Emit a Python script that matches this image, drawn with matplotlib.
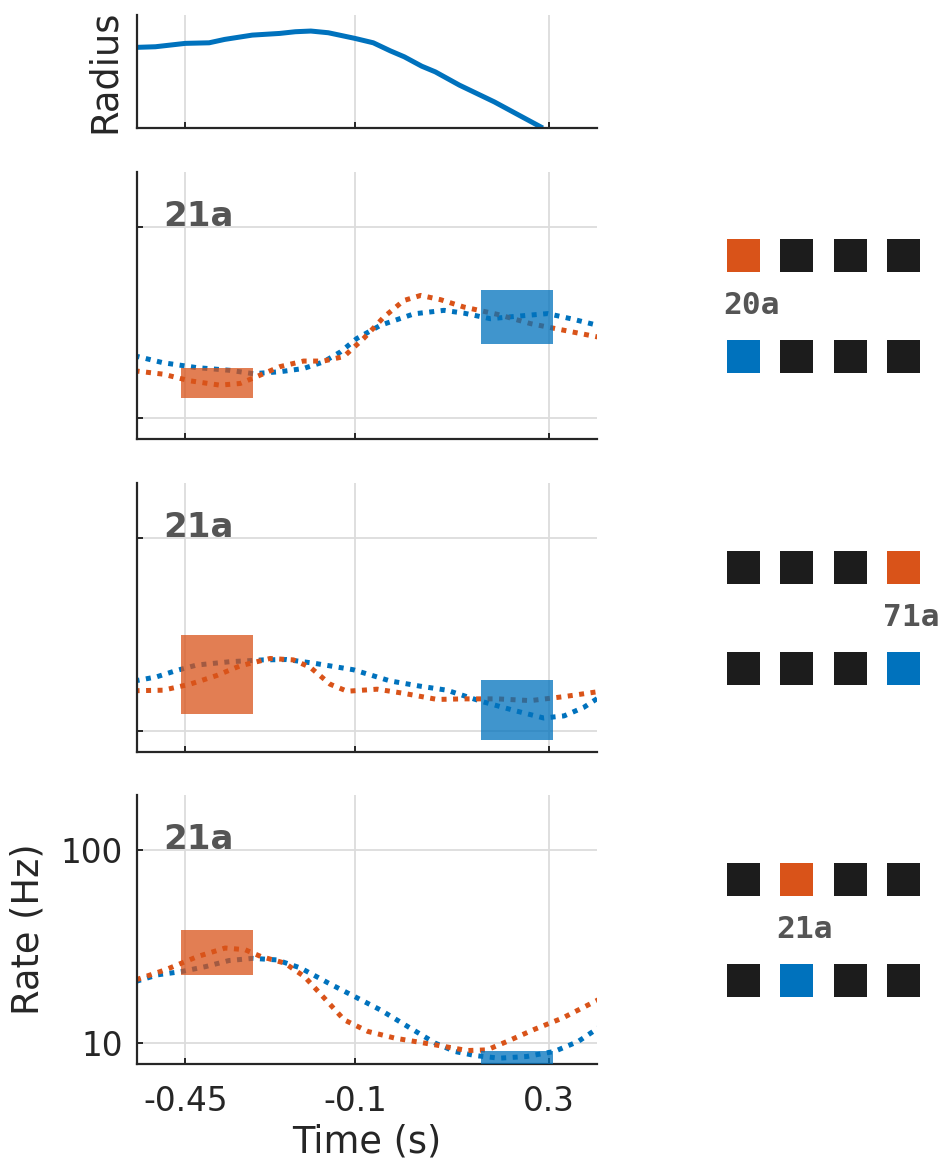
import matplotlib
matplotlib.use('Agg')
import numpy as np
import matplotlib.pyplot as plt
from matplotlib.patches import Rectangle

# ---------------- data ----------------
xticks = [-0.45, -0.1, 0.3]
xticklabels = ['-0.45', '-0.1', '0.3']
yticks = [10, 100]
yticklabels = ['10', '100']

radius_t = [-0.555, -0.512, -0.45, -0.401, -0.369, -0.312, -0.255, -0.223, -0.191,
            -0.155, -0.10, -0.062, -0.027, 0.002, 0.038, 0.066, 0.116, 0.188, 0.252, 0.288]
radius_r = [0.713, 0.719, 0.749, 0.754, 0.784, 0.822, 0.837, 0.852, 0.858,
            0.843, 0.793, 0.754, 0.683, 0.630, 0.547, 0.497, 0.379, 0.231, 0.083, 0.0]

# panel A (20a)
a_blue_t = [-0.555, -0.496, -0.427, -0.358, -0.31, -0.255, -0.206, -0.165, -0.13, -0.096,
            -0.047, 0.022, 0.084, 0.125, 0.18, 0.229, 0.298, 0.346, 0.401]
a_blue_v = [21.2, 19.5, 18.4, 17.8, 17.1, 17.5, 18.2, 19.7, 22.2, 26.1,
            30.6, 35.1, 36.6, 35.4, 33.1, 34.0, 35.2, 33.1, 30.6]
a_orange_t = [-0.555, -0.496, -0.441, -0.379, -0.337, -0.303, -0.255, -0.206, -0.165, -0.123,
              -0.082, -0.04, 0.001, 0.036, 0.077, 0.125, 0.194, 0.263, 0.332, 0.401]
a_orange_v = [17.7, 17.0, 15.7, 14.9, 15.2, 16.5, 18.6, 19.9, 19.9, 21.0,
              26.1, 33.8, 41.2, 43.8, 41.6, 38.1, 34.9, 31.2, 28.8, 26.6]

# panel B (71a)
b_blue_t = [-0.555, -0.51, -0.469, -0.427, -0.358, -0.289, -0.241, -0.185, -0.103, -0.027,
            0.035, 0.09, 0.16, 0.229, 0.29, 0.332, 0.373, 0.405]
b_blue_v = [18.2, 19.1, 20.6, 22.0, 22.9, 23.4, 23.5, 22.5, 20.8, 18.2,
            17.1, 16.3, 14.3, 12.8, 11.7, 12.0, 13.3, 15.0]
b_orange_t = [-0.555, -0.496, -0.441, -0.386, -0.337, -0.275, -0.227, -0.192, -0.151, -0.116,
              -0.054, 0.001, 0.07, 0.125, 0.194, 0.263, 0.332, 0.401]
b_orange_v = [16.2, 16.3, 17.5, 19.4, 21.8, 23.8, 23.4, 21.4, 17.5, 16.1,
              16.5, 15.7, 14.6, 14.7, 14.7, 14.4, 15.1, 16.0]

# panel C (21a)
c_blue_t = [-0.552, -0.507, -0.458, -0.409, -0.36, -0.311, -0.261, -0.212, -0.155, -0.098,
            -0.048, 0.009, 0.066, 0.107, 0.148, 0.198, 0.255, 0.312, 0.361, 0.403]
c_blue_v = [20.9, 22.6, 23.5, 24.9, 26.8, 27.5, 27.0, 24.5, 20.5, 17.3,
            14.9, 12.2, 10.0, 9.05, 8.63, 8.36, 8.53, 9.06, 10.2, 12.0]
c_orange_t = [-0.552, -0.491, -0.425, -0.368, -0.327, -0.294, -0.245, -0.204, -0.163, -0.122,
              -0.073, -0.016, 0.066, 0.132, 0.173, 0.214, 0.271, 0.329, 0.403]
c_orange_v = [21.3, 24.0, 28.1, 31.1, 30.5, 28.1, 26.0, 22.1, 17.1, 13.2,
              11.5, 10.6, 9.8, 9.16, 9.23, 10.2, 11.8, 13.5, 16.8]

# highlighted windows: [t0, t1, low, high]
a_orange_box = [-0.46, -0.31, 12.7, 18.4]
a_blue_box = [0.16, 0.31, 24.5, 47.0]
b_orange_box = [-0.46, -0.31, 12.2, 31.5]
b_blue_box = [0.16, 0.31, 9.0, 18.4]
c_orange_box = [-0.46, -0.31, 22.6, 38.6]
c_blue_box = [0.16, 0.31, 7.0, 9.06]

panel_tags = ['21a', '21a', '21a']
icon_labels = ['20a', '71a', '21a']
icon_highlight = [0, 3, 1]

# ---------------- style ----------------
BLUE = '#0072BD'
ORANGE = '#D95319'
TXT = '#262626'
GRID = '#DCDCDC'
TAG = '#555555'
W, H = 943, 1162
XLIM = (-0.55, 0.40)
YLIM = (7.8, 193)

fig = plt.figure(figsize=(W / 100, H / 100), dpi=100)


def px_axes(left, top, right, bottom):
    return fig.add_axes([left / W, 1 - bottom / H, (right - left) / W, (bottom - top) / H])


def style_axes(ax, ygrid=True):
    for s in ['top', 'right']:
        ax.spines[s].set_visible(False)
    for s in ['left', 'bottom']:
        ax.spines[s].set_color(TXT)
        ax.spines[s].set_linewidth(1.6)
    ax.set_xlim(*XLIM)
    ax.set_xticks(xticks)
    ax.tick_params(direction='in', length=4, width=1.4, colors=TXT, labelsize=23.5)
    ax.tick_params(axis='x', pad=15)
    ax.tick_params(axis='y', pad=10)
    ax.set_axisbelow(True)
    ax.grid(True, axis='x', color=GRID, lw=1.3)
    if ygrid:
        ax.grid(True, axis='y', color=GRID, lw=1.3)
    ax.set_facecolor('none')


# radius panel
ax0 = px_axes(137, 15, 597, 128)
style_axes(ax0, ygrid=False)
ax0.plot(radius_t, radius_r, color=BLUE, lw=3.6, solid_capstyle='butt')
ax0.set_ylim(0, 1)
ax0.set_yticks([])
ax0.set_xticklabels([])
ax0.text(-0.072, 0.5, 'Radius', transform=ax0.transAxes, rotation=90,
         ha='center', va='center', fontsize=26.5, color=TXT)

panels = [
    (172, 439, a_blue_t, a_blue_v, a_orange_t, a_orange_v, a_orange_box, a_blue_box),
    (483, 752, b_blue_t, b_blue_v, b_orange_t, b_orange_v, b_orange_box, b_blue_box),
    (795, 1064, c_blue_t, c_blue_v, c_orange_t, c_orange_v, c_orange_box, c_blue_box),
]

dots = (0, (1, 1.3))
for k, (top, bot, bt, bv, ot, ov, obox, bbox) in enumerate(panels):
    ax = px_axes(137, top, 597, bot)
    style_axes(ax)
    ax.set_yscale('log')
    ax.set_ylim(*YLIM)
    ax.set_yticks(yticks)
    ax.yaxis.set_minor_locator(matplotlib.ticker.NullLocator())
    ax.plot(bt, bv, color=BLUE, lw=3.6, linestyle=dots, dash_capstyle='butt', zorder=2)
    ax.plot(ot, ov, color=ORANGE, lw=3.6, linestyle=dots, dash_capstyle='butt', zorder=2)
    ax.add_patch(Rectangle((obox[0], obox[2]), obox[1] - obox[0], obox[3] - obox[2],
                           facecolor=ORANGE, alpha=0.75, edgecolor='none', zorder=3))
    ax.add_patch(Rectangle((bbox[0], bbox[2]), bbox[1] - bbox[0], bbox[3] - bbox[2],
                           facecolor=BLUE, alpha=0.75, edgecolor='none', zorder=3))
    ax.text(0.0565, 0.835, panel_tags[k], transform=ax.transAxes, ha='left', va='center',
            fontsize=24.5, fontweight='bold', color=TAG)
    if k < 2:
        ax.set_xticklabels([])
        ax.set_yticklabels([])
    else:
        ax.set_xticklabels(xticklabels)
        ax.set_yticklabels(yticklabels)
        ax.text(-0.237, 0.5, 'Rate (Hz)', transform=ax.transAxes, rotation=90,
                ha='center', va='center', fontsize=26.5, color=TXT)
        ax.text(0.5, -0.29, 'Time (s)', transform=ax.transAxes,
                ha='center', va='center', fontsize=26.5, color=TXT)

    # electrode icon
    yc = (top + bot) / 2
    iax = px_axes(716.8, yc - 101, 930.2, yc + 101)
    iax.set_xlim(-0.5, 3.5)
    iax.set_ylim(1.5, -0.5)
    iax.axis('off')
    for r in range(2):
        for c in range(4):
            if c == icon_highlight[k]:
                col = ORANGE if r == 0 else BLUE
            else:
                col = '#1C1C1C'
            iax.add_patch(Rectangle((c - 0.31, r - 0.163), 0.62, 0.327,
                                    facecolor=col, edgecolor='none'))
    iax.text(icon_highlight[k] + 0.15, 0.5, icon_labels[k], ha='center', va='center',
             fontsize=22.5, fontweight='bold', family='DejaVu Sans Mono', color=TAG)

fig.savefig('out.png', dpi=100)
